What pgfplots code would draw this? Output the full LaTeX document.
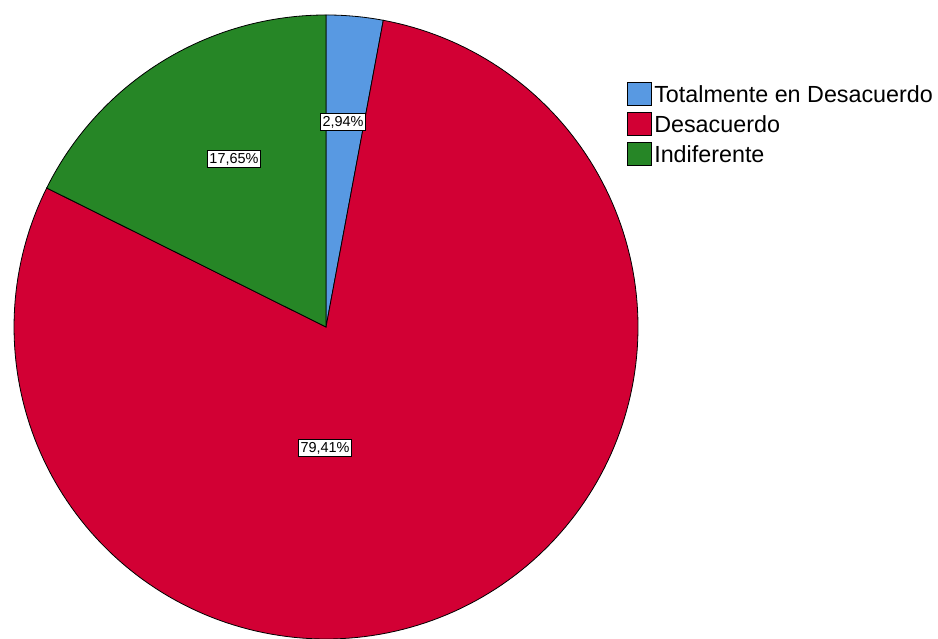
\documentclass[border=0pt]{standalone}
\usepackage{pgfplots}
\pgfplotsset{compat=1.18}
\usepackage{pgfplotstable}
\usepackage{fontspec}
\setmainfont{Liberation Sans}
\definecolor{cblue}{RGB}{88,153,226}
\definecolor{cred}{RGB}{210,0,52}
\definecolor{cgreen}{RGB}{38,134,38}
% percentages, clockwise from 12 o'clock
\pgfplotstableread{
label value
Totalmente 2.94
Desacuerdo 79.41
Indiferente 17.65
}\piedata
\begin{document}
\begin{tikzpicture}
\path[use as bounding box] (0,0) rectangle (938bp,639bp);
\pgfplotstablegetelem{0}{value}\of\piedata \let\va\pgfplotsretval
\pgfplotstablegetelem{1}{value}\of\piedata \let\vb\pgfplotsretval
\pgfplotstablegetelem{2}{value}\of\piedata \let\vc\pgfplotsretval
\pgfmathsetmacro{\aa}{90}
\pgfmathsetmacro{\ab}{90-3.6*\va}
\pgfmathsetmacro{\ac}{\ab-3.6*\vb}
\pgfmathsetmacro{\ad}{\ac-3.6*\vc}
\begin{axis}[
  at={(0,0)}, anchor=south west,
  width=938bp, height=639bp, scale only axis,
  xmin=-1.0449, xmax=1.9615, ymin=-1.0, ymax=1.048,
  hide axis, clip=true,
  legend style={at={(axis cs:0.965,0.785)}, anchor=north west, draw=none, fill=none,
    font=\fontsize{23.4}{28}\selectfont, inner sep=0pt, row sep=6bp,
    cells={anchor=west}},
  legend image code/.code={\draw[#1, line width=1bp] (0bp,-11bp) rectangle (24bp,12bp);},
  /tikz/every even column/.append style={column sep=2bp},
]
\addplot[fill=cblue, draw=black, line width=0.8bp, domain=\aa:\ab, samples=40, variable=\t]
  ({cos(t)},{sin(t)}) -- (axis cs:0,0) -- cycle;
\addlegendentry{Totalmente en Desacuerdo}
\addplot[fill=cred, draw=black, line width=0.8bp, domain=\ab:\ac, samples=200, variable=\t]
  ({cos(t)},{sin(t)}) -- (axis cs:0,0) -- cycle;
\addlegendentry{Desacuerdo}
\addplot[fill=cgreen, draw=black, line width=0.8bp, domain=\ac:\ad, samples=60, variable=\t]
  ({cos(t)},{sin(t)}) -- (axis cs:0,0) -- cycle;
\addlegendentry{Indiferente}
\begin{scope}[every node/.style={draw=black, fill=white, inner xsep=2bp, inner ysep=2.5bp, line width=0.6bp, font=\fontsize{14.5}{16}\selectfont}]
\node at (axis cs:0.0545,0.657) {2,94\%};
\node at (axis cs:-0.295,0.538) {17,65\%};
\node at (axis cs:-0.003,-0.388) {79,41\%};
\end{scope}
\end{axis}
\end{tikzpicture}
\end{document}
